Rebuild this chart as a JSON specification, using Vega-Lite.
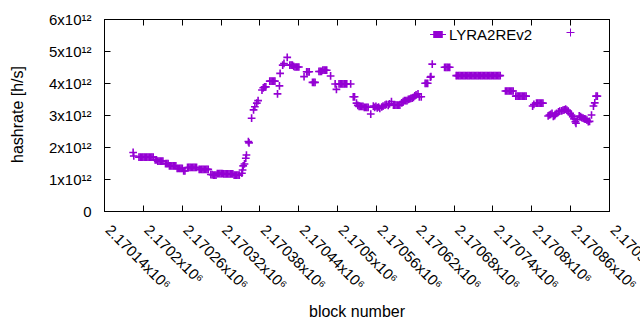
{
 "$schema": "https://vega.github.io/schema/vega-lite/v6.json",
 "width": 505, "height": 192,
 "autosize": {"type": "none"},
 "padding": {"left": 104, "top": 19, "right": 31, "bottom": 119},
 "background": "white",
 "config": {"view": {"stroke": "black", "strokeWidth": 1}, "font": "Liberation Sans",
  "axis": {"grid": false, "domainColor": "black", "tickColor": "black", "labelColor": "black", "titleColor": "black", "labelFontSize": 15, "titleFontSize": 16, "titleFontWeight": "normal", "tickSize": -6, "labelFlush": false, "labelOverlap": false}},
 "data": {"values": [
  {"b":2170185,"h":1.83e12},{"b":2170186,"h":1.72e12},
  {"b":2170194,"h":1.68e12},{"b":2170196,"h":1.68e12},{"b":2170198,"h":1.68e12},{"b":2170200,"h":1.68e12},{"b":2170202,"h":1.68e12},{"b":2170204,"h":1.68e12},{"b":2170206,"h":1.68e12},{"b":2170208,"h":1.68e12},{"b":2170210,"h":1.68e12},{"b":2170212,"h":1.68e12},{"b":2170214,"h":1.68e12},{"b":2170216,"h":1.68e12},
  {"b":2170219,"h":1.60e12},{"b":2170221,"h":1.60e12},
  {"b":2170223,"h":1.56e12},{"b":2170225,"h":1.56e12},{"b":2170227,"h":1.56e12},{"b":2170229,"h":1.56e12},{"b":2170231,"h":1.56e12},
  {"b":2170235,"h":1.48e12},{"b":2170237,"h":1.48e12},{"b":2170239,"h":1.48e12},
  {"b":2170241,"h":1.41e12},{"b":2170243,"h":1.41e12},{"b":2170245,"h":1.41e12},{"b":2170247,"h":1.41e12},{"b":2170249,"h":1.41e12},{"b":2170251,"h":1.41e12},
  {"b":2170253,"h":1.33e12},{"b":2170255,"h":1.33e12},{"b":2170257,"h":1.33e12},{"b":2170259,"h":1.33e12},{"b":2170261,"h":1.33e12},
  {"b":2170263,"h":1.25e12},{"b":2170265,"h":1.25e12},
  {"b":2170269,"h":1.36e12},{"b":2170271,"h":1.36e12},{"b":2170273,"h":1.36e12},{"b":2170275,"h":1.36e12},{"b":2170277,"h":1.36e12},{"b":2170279,"h":1.36e12},{"b":2170281,"h":1.36e12},{"b":2170283,"h":1.36e12},
  {"b":2170287,"h":1.30e12},{"b":2170289,"h":1.30e12},{"b":2170291,"h":1.30e12},{"b":2170293,"h":1.30e12},{"b":2170295,"h":1.30e12},{"b":2170297,"h":1.30e12},{"b":2170299,"h":1.30e12},{"b":2170301,"h":1.30e12},
  {"b":2170305,"h":1.14e12},{"b":2170307,"h":1.14e12},{"b":2170309,"h":1.12e12},{"b":2170311,"h":1.12e12},{"b":2170313,"h":1.12e12},
  {"b":2170315,"h":1.17e12},{"b":2170317,"h":1.17e12},{"b":2170319,"h":1.17e12},{"b":2170321,"h":1.17e12},{"b":2170323,"h":1.17e12},
  {"b":2170325,"h":1.16e12},{"b":2170327,"h":1.16e12},{"b":2170329,"h":1.16e12},{"b":2170331,"h":1.16e12},{"b":2170333,"h":1.16e12},{"b":2170335,"h":1.16e12},{"b":2170337,"h":1.16e12},{"b":2170339,"h":1.16e12},
  {"b":2170341,"h":1.12e12},{"b":2170343,"h":1.12e12},{"b":2170345,"h":1.12e12},{"b":2170347,"h":1.12e12},{"b":2170349,"h":1.12e12},
  {"b":2170353,"h":1.18e12},{"b":2170354,"h":1.28e12},{"b":2170355,"h":1.41e12},{"b":2170357,"h":1.47e12},{"b":2170359,"h":1.65e12},{"b":2170360,"h":1.75e12},{"b":2170363,"h":2.17e12},{"b":2170364,"h":2.13e12},{"b":2170368,"h":2.90e12},{"b":2170371,"h":3.16e12},{"b":2170373,"h":3.26e12},{"b":2170376,"h":3.37e12},{"b":2170378,"h":3.45e12},{"b":2170384,"h":3.78e12},{"b":2170386,"h":3.85e12},{"b":2170388,"h":3.88e12},{"b":2170390,"h":3.88e12},
  {"b":2170396,"h":4.06e12},{"b":2170398,"h":4.06e12},{"b":2170400,"h":4.06e12},{"b":2170402,"h":4.06e12},{"b":2170404,"h":4.06e12},
  {"b":2170408,"h":3.66e12},{"b":2170411,"h":3.91e12},{"b":2170412,"h":4.30e12},{"b":2170416,"h":4.56e12},{"b":2170418,"h":4.61e12},{"b":2170423,"h":4.80e12},
  {"b":2170427,"h":4.56e12},{"b":2170429,"h":4.56e12},{"b":2170431,"h":4.56e12},{"b":2170433,"h":4.52e12},
  {"b":2170435,"h":4.50e12},{"b":2170437,"h":4.50e12},{"b":2170439,"h":4.50e12},{"b":2170441,"h":4.50e12},
  {"b":2170449,"h":4.20e12},
  {"b":2170453,"h":4.35e12},{"b":2170455,"h":4.35e12},{"b":2170457,"h":4.35e12},
  {"b":2170462,"h":4.02e12},{"b":2170464,"h":4.02e12},{"b":2170466,"h":4.02e12},
  {"b":2170472,"h":4.36e12},{"b":2170474,"h":4.36e12},{"b":2170476,"h":4.36e12},
  {"b":2170478,"h":4.40e12},{"b":2170480,"h":4.40e12},{"b":2170482,"h":4.40e12},{"b":2170484,"h":4.40e12},
  {"b":2170490,"h":4.22e12},{"b":2170497,"h":3.97e12},{"b":2170499,"h":3.80e12},
  {"b":2170503,"h":3.97e12},{"b":2170505,"h":3.97e12},{"b":2170507,"h":3.97e12},{"b":2170509,"h":3.97e12},{"b":2170511,"h":3.97e12},{"b":2170513,"h":3.97e12},{"b":2170515,"h":3.97e12},
  {"b":2170521,"h":3.97e12},
  {"b":2170525,"h":3.57e12},{"b":2170527,"h":3.57e12},
  {"b":2170530,"h":3.37e12},{"b":2170532,"h":3.30e12},
  {"b":2170534,"h":3.27e12},{"b":2170536,"h":3.27e12},{"b":2170538,"h":3.27e12},{"b":2170540,"h":3.27e12},
  {"b":2170542,"h":3.24e12},{"b":2170544,"h":3.24e12},{"b":2170546,"h":3.24e12},{"b":2170548,"h":3.24e12},
  {"b":2170552,"h":3.03e12},{"b":2170556,"h":3.28e12},{"b":2170558,"h":3.24e12},{"b":2170560,"h":3.27e12},{"b":2170562,"h":3.22e12},{"b":2170564,"h":3.25e12},{"b":2170566,"h":3.21e12},{"b":2170569,"h":3.25e12},{"b":2170571,"h":3.28e12},{"b":2170574,"h":3.31e12},{"b":2170576,"h":3.33e12},{"b":2170579,"h":3.30e12},{"b":2170581,"h":3.35e12},{"b":2170584,"h":3.42e12},
  {"b":2170587,"h":3.31e12},{"b":2170589,"h":3.31e12},{"b":2170591,"h":3.31e12},{"b":2170593,"h":3.31e12},{"b":2170595,"h":3.31e12},{"b":2170597,"h":3.31e12},
  {"b":2170600,"h":3.38e12},{"b":2170602,"h":3.42e12},{"b":2170604,"h":3.45e12},{"b":2170606,"h":3.45e12},{"b":2170608,"h":3.45e12},{"b":2170610,"h":3.49e12},{"b":2170612,"h":3.50e12},{"b":2170614,"h":3.52e12},{"b":2170616,"h":3.53e12},{"b":2170618,"h":3.55e12},{"b":2170620,"h":3.60e12},{"b":2170622,"h":3.63e12},{"b":2170625,"h":3.66e12},{"b":2170627,"h":3.57e12},{"b":2170630,"h":3.57e12},
  {"b":2170636,"h":3.99e12},{"b":2170638,"h":3.99e12},{"b":2170640,"h":3.99e12},
  {"b":2170644,"h":4.18e12},{"b":2170645,"h":4.20e12},{"b":2170647,"h":4.59e12},
  {"b":2170666,"h":4.49e12},{"b":2170668,"h":4.49e12},{"b":2170670,"h":4.49e12},{"b":2170672,"h":4.49e12},{"b":2170674,"h":4.49e12},
  {"b":2170684,"h":4.23e12},{"b":2170686,"h":4.23e12},{"b":2170688,"h":4.23e12},{"b":2170690,"h":4.23e12},{"b":2170692,"h":4.23e12},{"b":2170694,"h":4.23e12},{"b":2170696,"h":4.23e12},{"b":2170698,"h":4.23e12},{"b":2170700,"h":4.23e12},{"b":2170702,"h":4.23e12},{"b":2170704,"h":4.23e12},{"b":2170706,"h":4.23e12},{"b":2170708,"h":4.23e12},{"b":2170710,"h":4.23e12},{"b":2170712,"h":4.23e12},{"b":2170714,"h":4.23e12},{"b":2170716,"h":4.23e12},{"b":2170718,"h":4.23e12},{"b":2170720,"h":4.23e12},{"b":2170722,"h":4.23e12},{"b":2170724,"h":4.23e12},{"b":2170726,"h":4.23e12},{"b":2170728,"h":4.23e12},{"b":2170730,"h":4.23e12},{"b":2170732,"h":4.23e12},{"b":2170734,"h":4.23e12},{"b":2170736,"h":4.23e12},{"b":2170738,"h":4.23e12},{"b":2170740,"h":4.23e12},{"b":2170742,"h":4.23e12},{"b":2170744,"h":4.23e12},{"b":2170746,"h":4.23e12},{"b":2170748,"h":4.23e12},{"b":2170750,"h":4.23e12},{"b":2170752,"h":4.23e12},
  {"b":2170760,"h":3.75e12},{"b":2170762,"h":3.75e12},{"b":2170764,"h":3.75e12},{"b":2170766,"h":3.75e12},{"b":2170768,"h":3.75e12},{"b":2170770,"h":3.75e12},{"b":2170772,"h":3.75e12},
  {"b":2170776,"h":3.59e12},{"b":2170778,"h":3.59e12},{"b":2170780,"h":3.59e12},{"b":2170782,"h":3.59e12},{"b":2170784,"h":3.59e12},{"b":2170786,"h":3.59e12},{"b":2170788,"h":3.59e12},{"b":2170790,"h":3.59e12},{"b":2170792,"h":3.59e12},
  {"b":2170802,"h":3.28e12},{"b":2170804,"h":3.33e12},
  {"b":2170808,"h":3.37e12},{"b":2170810,"h":3.37e12},{"b":2170812,"h":3.37e12},{"b":2170814,"h":3.37e12},{"b":2170816,"h":3.37e12},{"b":2170818,"h":3.37e12},
  {"b":2170826,"h":2.97e12},{"b":2170828,"h":3.00e12},{"b":2170830,"h":3.02e12},{"b":2170832,"h":3.05e12},{"b":2170834,"h":2.96e12},{"b":2170836,"h":2.98e12},{"b":2170837,"h":3.02e12},{"b":2170839,"h":3.05e12},{"b":2170842,"h":3.10e12},{"b":2170844,"h":3.12e12},{"b":2170847,"h":3.13e12},{"b":2170849,"h":3.15e12},{"b":2170851,"h":3.16e12},{"b":2170853,"h":3.18e12},{"b":2170855,"h":3.15e12},{"b":2170857,"h":3.12e12},{"b":2170860,"h":3.05e12},{"b":2170862,"h":3.00e12},{"b":2170864,"h":2.95e12},{"b":2170866,"h":2.88e12},{"b":2170868,"h":2.79e12},{"b":2170869,"h":2.74e12},{"b":2170871,"h":2.85e12},{"b":2170874,"h":2.97e12},{"b":2170876,"h":2.95e12},{"b":2170878,"h":2.92e12},{"b":2170880,"h":2.90e12},{"b":2170882,"h":2.88e12},{"b":2170884,"h":2.87e12},{"b":2170886,"h":2.84e12},{"b":2170888,"h":2.79e12},{"b":2170890,"h":2.80e12},{"b":2170893,"h":3.00e12},{"b":2170896,"h":3.28e12},{"b":2170898,"h":3.38e12},{"b":2170900,"h":3.59e12},{"b":2170902,"h":3.59e12}
 ]},
 "layer": [
  {
   "mark": {"type": "point", "filled": false, "size": 60, "strokeWidth": 1.6, "opacity": 1},
   "encoding": {
    "x": {"field": "b", "type": "quantitative", "scale": {"domain": [2170140, 2170920], "nice": false, "zero": false},
     "axis": {"values": [2170140,2170200,2170260,2170320,2170380,2170440,2170500,2170560,2170620,2170680,2170740,2170800,2170860,2170920],
      "labelExpr": "format(datum.value/1000000, '.5~f') + 'x10⁶'", "labelAngle": 45, "labelAlign": "left", "labelBaseline": "middle", "labelPadding": 22, "labelOffset": 3.5,
      "title": "block number", "titleY": 100, "titleBaseline": "middle"}},
    "y": {"field": "h", "type": "quantitative", "scale": {"domain": [0, 6e12], "nice": false},
     "axis": {"values": [0,1e12,2e12,3e12,4e12,5e12,6e12], "labelExpr": "datum.value == 0 ? '0' : format(datum.value/1e12, 'd') + 'x10¹²'", "labelPadding": 19,
      "title": "hashrate [h/s]", "titleX": -87, "titleY": 95, "titleAlign": "center", "titleBaseline": "middle"}},
    "color": {"datum": "LYRA2REv2", "scale": {"range": ["#9400d3"]},
     "legend": {"orient": "none", "legendX": 325, "legendY": 6.5, "title": null, "padding": 0, "symbolType": "M-1,0H1M-0.6,-0.35H0.6M-0.6,-0.25H0.6M-0.6,-0.15H0.6M-0.6,-0.05H0.6M-0.6,0.05H0.6M-0.6,0.15H0.6M-0.6,0.25H0.6M-0.6,0.35H0.6", "symbolSize": 256, "symbolStrokeWidth": 1.2, "symbolStrokeColor": "#9400d3", "symbolOpacity": 1, "labelFontSize": 15, "labelColor": "black", "labelOffset": 2,
      "encode": {"symbols": {"update": {"stroke": {"value": "#9400d3"}, "opacity": {"value": 1}}}}}},
    "shape": {"datum": " ", "scale": {"range": ["M-1,0H1M0,-1V1"]},
     "legend": {"orient": "none", "legendX": 459, "legendY": 6, "title": null, "padding": 0, "symbolSize": 64, "symbolStrokeWidth": 1, "symbolStrokeColor": "#9400d3", "labelFontSize": 15,
      "encode": {"symbols": {"update": {"fill": {"value": "transparent"}, "stroke": {"value": "#9400d3"}, "opacity": {"value": 1}}}}}}
   }
  },
  {
   "mark": {"type": "point", "opacity": 0},
   "encoding": {
    "x": {"field": "b", "type": "quantitative", "axis": {"orient": "top", "values": [2170140,2170200,2170260,2170320,2170380,2170440,2170500,2170560,2170620,2170680,2170740,2170800,2170860,2170920], "labels": false, "title": null}},
    "y": {"field": "h", "type": "quantitative", "axis": {"orient": "right", "values": [0,1e12,2e12,3e12,4e12,5e12,6e12], "labels": false, "title": null}}
   }
  }
 ],
 "resolve": {"axis": {"x": "independent", "y": "independent"}}
}
